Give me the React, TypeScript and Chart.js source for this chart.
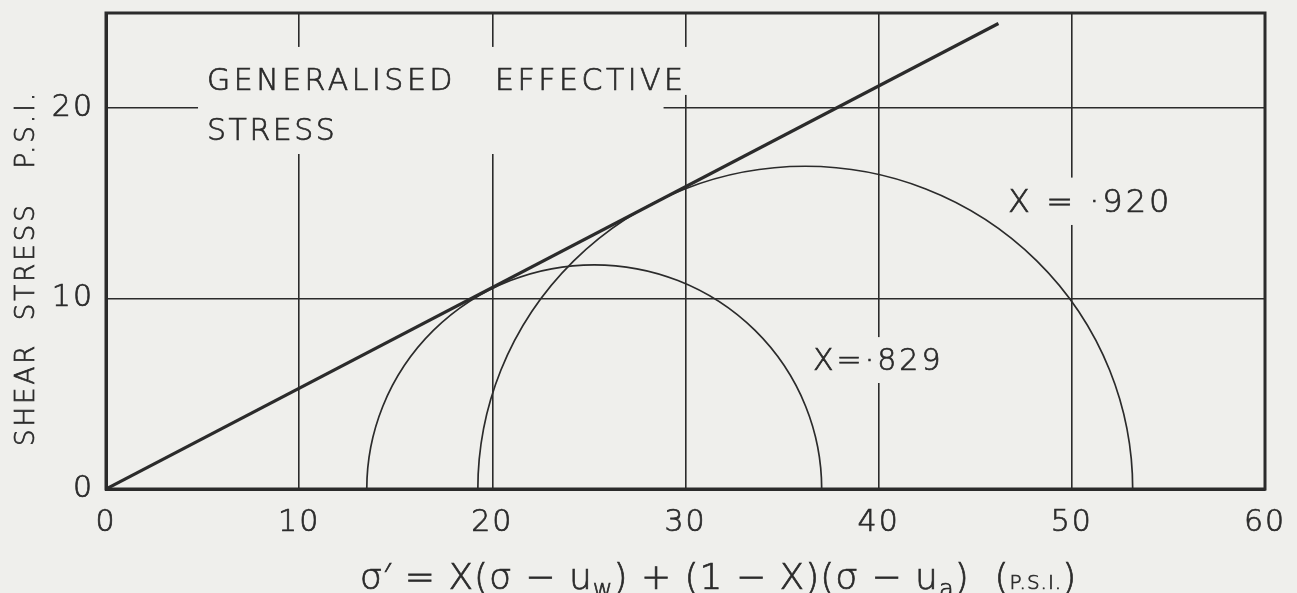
import React, { useEffect, useRef } from 'react';
import { Chart, registerables } from 'chart.js';

Chart.register(...registerables);

// Axis ticks (p.s.i.)
const xTickValues = [0, 10, 20, 30, 40, 50, 60];
const yTickValues = [0, 10, 20];

// Generalised effective-stress failure envelope, through the origin
const envelopeSigma = [0, 46.2];
const envelopeTau = [0, 24.45];

// Mohr circles at failure: minor and major effective principal stresses
const circleNames = ['X=·829', 'X = ·920'];
const sigmaMinor = [13.5, 19.25];
const sigmaMajor = [37.05, 53.15];

const FONT = '"DejaVu Sans", "Noto Sans", sans-serif';
const INK = '#2b2b2b';
const PAPER = '#efefec';

// Where the hand lettering sits, in data units (left edge, baseline)
const captionAnchor = { x: 5.23, line1: 20.96, line2: 18.33 };
const circleLabelAnchors = [
  { x: 36.6, y: 6.25, size: 30 },
  { x: 46.7, y: 14.55, size: 32 },
];

type Seg = { t: string; s: number; dy?: number };
const xTitle: Seg[] = [
  { t: 'σ′ = X(σ − u', s: 36 },
  { t: 'w', s: 24, dy: 8 },
  { t: ') + (1 − X)(σ − u', s: 36 },
  { t: 'a', s: 24, dy: 8 },
  { t: ')  (', s: 36 },
  { t: 'P.S.I.', s: 20 },
  { t: ')', s: 36 },
];

const font = (size: number) => `200 ${size}px ${FONT}`;

// filled text with a thin outline, for a pen-drawn stroke weight
function pen(ctx: CanvasRenderingContext2D, text: string, x: number, y: number) {
  ctx.fillText(text, x, y);
  ctx.strokeText(text, x, y);
}

const drafting = {
  id: 'drafting',
  beforeDraw(chart: any) {
    const { ctx, width, height } = chart;
    ctx.save();
    ctx.fillStyle = PAPER;
    ctx.fillRect(0, 0, width, height);
    ctx.restore();
    ctx.letterSpacing = '2px';
  },
  beforeDatasetsDraw(chart: any) {
    const { ctx, chartArea: a, scales } = chart;
    const xs = scales.x;
    const ys = scales.y;
    ctx.save();
    ctx.letterSpacing = '3.5px';
    ctx.textBaseline = 'alphabetic';
    ctx.textAlign = 'left';
    ctx.strokeStyle = INK;
    ctx.lineWidth = 0.7;

    // caption, with the grid left open around it
    const cx = xs.getPixelForValue(captionAnchor.x);
    const b1 = ys.getPixelForValue(captionAnchor.line1);
    const b2 = ys.getPixelForValue(captionAnchor.line2);
    ctx.font = font(30);
    const line1 = 'GENERALISED   EFFECTIVE';
    const w1 = ctx.measureText(line1).width;
    ctx.fillStyle = PAPER;
    ctx.fillRect(cx - 9, b1 - 43, w1 + 14, 48);
    ctx.fillRect(cx - 9, b1 + 4, w1 - 14, b2 - b1 + 10);
    ctx.fillStyle = INK;
    pen(ctx, line1, cx, b1);
    ctx.letterSpacing = '2.5px';
    pen(ctx, 'STRESS', cx, b2);

    // circle labels
    ctx.letterSpacing = '3px';
    circleNames.forEach((name, i) => {
      const p = circleLabelAnchors[i];
      ctx.font = font(p.size);
      const px = xs.getPixelForValue(p.x);
      const py = ys.getPixelForValue(p.y);
      const w = ctx.measureText(name).width;
      ctx.fillStyle = PAPER;
      ctx.fillRect(px - 6, py - p.size * 0.73 - 11, w + 12, p.size * 0.73 + 24);
      ctx.fillStyle = INK;
      pen(ctx, name, px, py);
    });

    // frame
    ctx.lineWidth = 3;
    ctx.strokeRect(a.left, a.top, a.right - a.left, a.bottom - a.top);

    // Mohr semicircles
    ctx.lineWidth = 1.7;
    sigmaMinor.forEach((s3, i) => {
      const s1 = sigmaMajor[i];
      const c = (s1 + s3) / 2;
      const r = (s1 - s3) / 2;
      const px = xs.getPixelForValue(c);
      const py = ys.getPixelForValue(0);
      const rx = xs.getPixelForValue(c + r) - px;
      const ry = py - ys.getPixelForValue(r);
      ctx.beginPath();
      ctx.ellipse(px, py, rx, ry, 0, Math.PI, 2 * Math.PI);
      ctx.stroke();
    });

    // y-axis title
    ctx.lineWidth = 0.7;
    ctx.font = font(26);
    ctx.letterSpacing = '3px';
    ctx.textAlign = 'center';
    ctx.textBaseline = 'middle';
    ctx.translate(27, (a.top + a.bottom) / 2 + 17);
    ctx.rotate(-Math.PI / 2);
    pen(ctx, 'SHEAR  STRESS   P.S.I.', 0, 0);
    ctx.setTransform(1, 0, 0, 1, 0, 0);

    // x-axis title with subscripts
    ctx.letterSpacing = '1px';
    ctx.textAlign = 'left';
    ctx.textBaseline = 'alphabetic';
    let total = 0;
    xTitle.forEach((sg) => {
      ctx.font = font(sg.s);
      total += ctx.measureText(sg.t).width;
    });
    let tx = (a.left + a.right) / 2 + 33 - total / 2;
    const ty = a.bottom + 100;
    xTitle.forEach((sg) => {
      ctx.font = font(sg.s);
      pen(ctx, sg.t, tx, ty + (sg.dy || 0));
      tx += ctx.measureText(sg.t).width;
    });
    ctx.restore();
  },
  afterDraw(chart: any) {
    chart.ctx.letterSpacing = '0px';
  },
};

export default function App() {
  const canvasRef = useRef<HTMLCanvasElement | null>(null);

  useEffect(() => {
    const canvas = canvasRef.current;
    if (!canvas) return;
    const chart = new Chart(canvas, {
      type: 'scatter',
      data: {
        datasets: [
          {
            label: 'envelope',
            data: envelopeSigma.map((s, i) => ({ x: s, y: envelopeTau[i] })),
            showLine: true,
            borderColor: INK,
            borderWidth: 3.2,
            pointRadius: 0,
          },
        ],
      },
      options: {
        animation: false,
        responsive: true,
        maintainAspectRatio: false,
        layout: { padding: { left: 0, right: 32, top: 13, bottom: 0 } },
        plugins: { legend: { display: false }, tooltip: { enabled: false } },
        scales: {
          x: {
            type: 'linear',
            min: 0,
            max: 60,
            afterBuildTicks: (s: any) => {
              s.ticks = xTickValues.map((v) => ({ value: v }));
            },
            afterFit: (s: any) => {
              s.height = 104;
              s.paddingLeft = 0;
              s.paddingRight = 0;
            },
            ticks: {
              color: INK,
              font: { family: FONT, size: 30, weight: '200' as any },
              textStrokeColor: INK,
              textStrokeWidth: 0.7,
              padding: 16,
              maxRotation: 0,
            },
            grid: { color: INK, lineWidth: 1.6, drawTicks: false },
            border: { color: INK, width: 3 },
          },
          y: {
            type: 'linear',
            min: 0,
            max: 25,
            afterBuildTicks: (s: any) => {
              s.ticks = yTickValues.map((v) => ({ value: v }));
            },
            afterFit: (s: any) => {
              s.width = 106;
              s.paddingTop = 0;
              s.paddingBottom = 0;
            },
            ticks: {
              color: INK,
              font: { family: FONT, size: 30, weight: '200' as any },
              textStrokeColor: INK,
              textStrokeWidth: 0.7,
              padding: 12,
            },
            grid: { color: INK, lineWidth: 1.6, drawTicks: false },
            border: { color: INK, width: 3 },
          },
        },
      },
      plugins: [drafting],
    });
    return () => chart.destroy();
  }, []);

  return (
    <div style={{ position: 'fixed', left: 0, top: 0, width: 1297, height: 593, background: PAPER }}>
      <canvas ref={canvasRef} />
    </div>
  );
}
